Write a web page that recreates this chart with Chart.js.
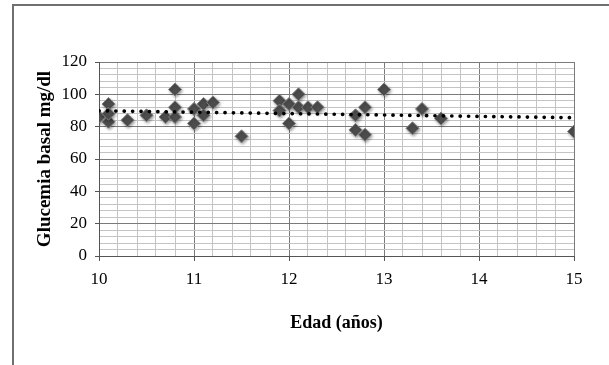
<!DOCTYPE html>
<html>
<head>
<meta charset="utf-8">
<script src="https://cdn.jsdelivr.net/npm/chart.js@4/dist/chart.umd.min.js"></script>
<style>
  body { margin: 0; background: #fff; }
  #frame { position: absolute; left: 12px; top: 4px; width: 640px; height: 420px;
           border-left: 2px solid #707070; border-top: 2px solid #707070; }
  #wrap { position: absolute; left: 0; top: 0; width: 609px; height: 365px; }
</style>
</head>
<body>
<div id="frame"></div>
<div id="wrap"><canvas id="chart"></canvas></div>
<script>
// edad (años) y glucemia basal (mg/dl)
var ages = [10.0, 10.1, 10.1, 10.1, 10.3, 10.5, 10.7, 10.8, 10.8, 10.8, 11.0, 11.0, 11.1, 11.1, 11.2, 11.5,
            11.9, 11.9, 12.0, 12.0, 12.1, 12.1, 12.2, 12.3, 12.7, 12.7, 12.8, 12.8, 13.0, 13.3, 13.4, 13.6, 15.0];
var glucose = [86, 94, 83, 88, 84, 87, 86, 103, 92, 86, 91, 82, 94, 87, 95, 74,
               96, 90, 94, 82, 100, 92, 92, 92, 87, 78, 92, 75, 103, 79, 91, 85, 77];

// linea de tendencia (extremos leidos)
var trendX = [10, 15];
var trendY = [89.8, 85.5];

var xTicks = [10, 11, 12, 13, 14, 15];
var yTicks = [0, 20, 40, 60, 80, 100, 120];

var points = ages.map(function (a, i) { return { x: a, y: glucose[i] }; });
var trend = trendX.map(function (a, i) { return { x: a, y: trendY[i] }; });

function isMajor(list, v) {
    return list.some(function (t) { return Math.abs(t - v) < 1e-6; });
}

var serif = "'Liberation Serif', 'DejaVu Serif', serif";

var shadowPlugin = {
    id: 'shadow',
    beforeDatasetDraw: function (chart, args) {
        if (args.index === 0) {
            chart.ctx.save();
            chart.ctx.shadowColor = 'rgba(0,0,0,0.35)';
            chart.ctx.shadowBlur = 3;
            chart.ctx.shadowOffsetX = 1;
            chart.ctx.shadowOffsetY = 1.5;
        }
    },
    afterDatasetDraw: function (chart, args) {
        if (args.index === 0) chart.ctx.restore();
    }
};

new Chart(document.getElementById('chart'), {
    type: 'scatter',
    data: {
        datasets: [{
            data: points,
            order: 2,
            pointStyle: 'rectRot',
            pointRadius: 6.5,
            pointHoverRadius: 6.5,
            backgroundColor: '#4d4d4d',
            borderColor: '#808080',
            borderWidth: 1
        }, {
            type: 'line',
            data: trend,
            order: 1,
            borderColor: '#000',
            borderWidth: 3.7,
            borderDash: [0.1, 8.3],
            borderCapStyle: 'round',
            pointRadius: 0,
            fill: false
        }]
    },
    plugins: [shadowPlugin],
    options: {
        responsive: true,
        maintainAspectRatio: false,
        animation: false,
        layout: { padding: { left: 30, top: 62, right: 35, bottom: 27 } },
        plugins: { legend: { display: false }, tooltip: { enabled: false } },
        scales: {
            x: {
                type: 'linear',
                min: 10, max: 15,
                afterFit: function (s) { s.height = 82; },
                border: { color: '#555', width: 1 },
                grid: {
                    color: function (c) { return isMajor(xTicks, c.tick.value) ? '#7a7a7a' : '#c4c4c4'; },
                    tickColor: function (c) { return isMajor(xTicks, c.tick.value) ? '#555' : 'rgba(0,0,0,0)'; },
                    tickLength: 5
                },
                ticks: {
                    stepSize: 0.2,
                    autoSkip: false,
                    maxRotation: 0,
                    padding: 8,
                    color: '#000',
                    font: { family: serif, size: 17 },
                    callback: function (v) { return isMajor(xTicks, v) ? String(Math.round(v)) : ''; }
                },
                title: {
                    display: true,
                    text: 'Edad (años)',
                    color: '#000',
                    padding: { top: 4, bottom: 4 },
                    font: { family: serif, size: 18, weight: 'bold' }
                }
            },
            y: {
                min: 0, max: 120,
                afterFit: function (s) { s.width = 69; },
                border: { color: '#555', width: 1 },
                grid: {
                    color: function (c) { return isMajor(yTicks, c.tick.value) ? '#7a7a7a' : '#c4c4c4'; },
                    tickColor: function (c) { return isMajor(yTicks, c.tick.value) ? '#555' : 'rgba(0,0,0,0)'; },
                    tickLength: 4
                },
                ticks: {
                    stepSize: 4,
                    autoSkip: false,
                    padding: 8,
                    color: '#000',
                    font: { family: serif, size: 17 },
                    callback: function (v) { return isMajor(yTicks, v) ? String(Math.round(v)) : ''; }
                },
                title: {
                    display: true,
                    text: 'Glucemia basal mg/dl',
                    color: '#000',
                    padding: { top: 4, bottom: 4 },
                    font: { family: serif, size: 19, weight: 'bold' }
                }
            }
        }
    }
});
</script>
</body>
</html>
